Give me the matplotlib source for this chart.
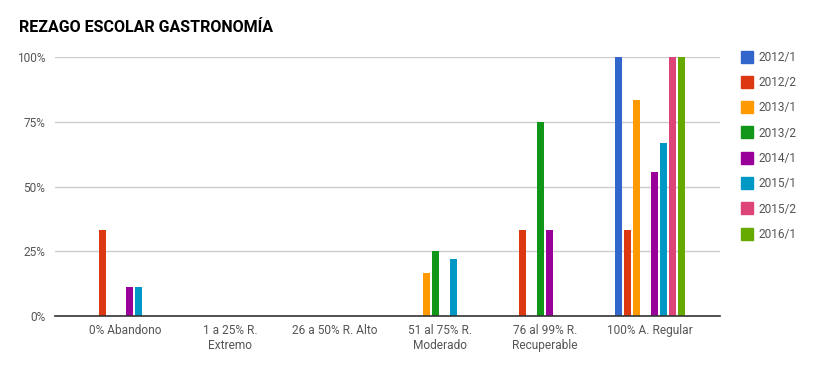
import numpy as np
import matplotlib.pyplot as plt
from matplotlib.lines import Line2D

plt.rcParams['font.family'] = ['Roboto', 'DejaVu Sans']

# categories and series (percent values)
categories = ['0% Abandono', '1 a 25% R.\nExtremo', '26 a 50% R. Alto',
              '51 al 75% R.\nModerado', '76 al 99% R.\nRecuperable', '100% A. Regular']
series_names = ['2012/1', '2012/2', '2013/1', '2013/2', '2014/1', '2015/1', '2015/2', '2016/1']
nan = np.nan
s2012_1 = [nan, nan, nan, nan, nan, 100.0]
s2012_2 = [33.3, nan, nan, nan, 33.3, 33.3]
s2013_1 = [nan, nan, nan, 16.7, nan, 83.3]
s2013_2 = [nan, nan, nan, 25.0, 75.0, nan]
s2014_1 = [11.1, nan, nan, nan, 33.3, 55.6]
s2015_1 = [11.1, nan, nan, 22.2, nan, 66.7]
s2015_2 = [nan, nan, nan, nan, nan, 100.0]
s2016_1 = [nan, nan, nan, nan, nan, 100.0]
all_series = [s2012_1, s2012_2, s2013_1, s2013_2, s2014_1, s2015_1, s2015_2, s2016_1]
colors = ['#3366cc', '#dc3912', '#ff9900', '#109618', '#990099', '#0099c6', '#dd4477', '#66aa00']

fig = plt.figure(figsize=(8.19, 3.71), dpi=100)
ax = fig.add_axes([55 / 819, 1 - 316 / 371, 665 / 819, 259 / 371])

x = np.arange(len(categories))
step = 9 / 105
width = 7 / 105
for i, (vals, col) in enumerate(zip(all_series, colors)):
    offs = (i - 3.5) * step
    ax.bar(x + offs, vals, width=width, color=col, zorder=3)

ax.set_xlim(-0.667, 5.667)
ax.set_ylim(0, 100)
ax.set_yticks([0, 25, 50, 75, 100])
ax.set_yticklabels(['0%', '25%', '50%', '75%', '100%'])
ax.set_xticks(x)
ax.set_xticklabels(categories)
ax.tick_params(axis='both', length=0, labelsize=8.6, colors='#555555')
ax.tick_params(axis='x', pad=6)
ax.tick_params(axis='y', pad=7)
ax.grid(axis='y', color='#cccccc', linewidth=1, zorder=0)
for sp in ['top', 'right', 'left']:
    ax.spines[sp].set_visible(False)
ax.spines['bottom'].set_color('#333333')
ax.spines['bottom'].set_linewidth(1.2)
ax.spines['bottom'].set_zorder(4)

fig.text(19 / 819, 1 - 28 / 371, 'REZAGO ESCOLAR GASTRONOMÍA', fontsize=11.5,
         fontweight='bold', va='center', ha='left', color='#000000')

handles = [Line2D([0], [0], marker='s', linestyle='', markersize=8.5,
                  markerfacecolor=c, markeredgecolor=c) for c in colors]
fig.legend(handles, series_names, loc='upper left',
           bbox_to_anchor=(730 / 819, 1 - 40 / 371), frameon=False,
           fontsize=8.6, labelspacing=1.03, handletextpad=0.5,
           handlelength=1.0, labelcolor='#555555')

fig.savefig('out.png', dpi=100)
